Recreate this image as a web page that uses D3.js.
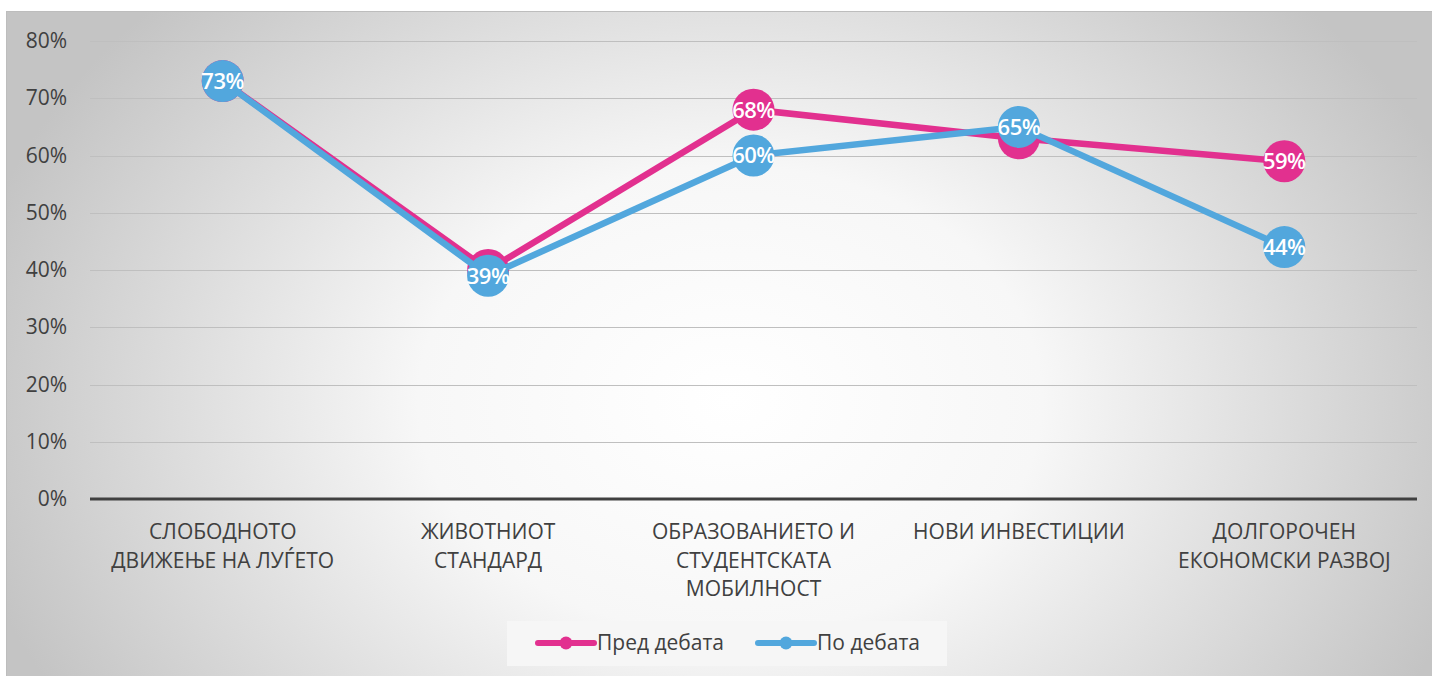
<!DOCTYPE html>
<html>
<head>
<meta charset="utf-8">
<script src="https://cdn.jsdelivr.net/npm/d3@7"></script>
<style>
  html, body { margin: 0; padding: 0; background: #fff; }
  svg { display: block; font-family: "Open Sans", sans-serif; }
</style>
</head>
<body>
<div id="chart"></div>
<script>
// categories (two-line labels as arrays)
const categories = [
    ["СЛОБОДНОТО", "ДВИЖЕЊЕ НА ЛУЃЕТО"],
    ["ЖИВОТНИОТ", "СТАНДАРД"],
    ["ОБРАЗОВАНИЕТО И", "СТУДЕНТСКАТА", "МОБИЛНОСТ"],
    ["НОВИ ИНВЕСТИЦИИ"],
    ["ДОЛГОРОЧЕН", "ЕКОНОМСКИ РАЗВОЈ"]
];
// series values (share)
const predDebata = [0.73, 0.40, 0.68, 0.63, 0.59];
const poDebata = [0.73, 0.39, 0.60, 0.65, 0.44];
const seriesNames = ["Пред дебата", "По дебата"];
const yTicks = [0, 0.1, 0.2, 0.3, 0.4, 0.5, 0.6, 0.7, 0.8];

const colors = ["#E2308F", "#52A7DD"];

const W = 1432, H = 677;
const margin = {left: 90, right: 15, top: 41, bottom: 178};
const R = 21;

const svg = d3.select("#chart").append("svg")
    .attr("width", W)
    .attr("height", H);

// background radial gradient
const defs = svg.append("defs");
const grad = defs.append("radialGradient")
    .attr("id", "bg")
    .attr("gradientUnits", "userSpaceOnUse")
    .attr("cx", 730).attr("cy", 400)
    .attr("r", 780)
    .attr("gradientTransform", "translate(730,400) scale(1,0.75) translate(-730,-400)");
grad.append("stop").attr("offset", "0%").attr("stop-color", "#ffffff");
grad.append("stop").attr("offset", "40%").attr("stop-color", "#f7f7f7");
grad.append("stop").attr("offset", "100%").attr("stop-color", "#c4c4c4");

svg.append("rect")
    .attr("x", 6).attr("y", 11)
    .attr("width", W - 6).attr("height", 665)
    .attr("fill", "url(#bg)");
svg.append("line")
    .attr("x1", 6.5).attr("x2", 6.5).attr("y1", 11).attr("y2", 676)
    .attr("stroke", "#bdbdbd").attr("stroke-width", 1);
svg.append("line")
    .attr("x1", 6).attr("x2", W).attr("y1", 11.5).attr("y2", 11.5)
    .attr("stroke", "#bdbdbd").attr("stroke-width", 1);

// scales
const x = d3.scaleBand()
    .domain(d3.range(categories.length))
    .range([margin.left, W - margin.right]);
const y = d3.scaleLinear()
    .domain([0, 0.8])
    .range([H - margin.bottom, margin.top]);
const cx = i => x(i) + x.bandwidth() / 2;

const g = svg.append("g");

// grid
g.selectAll(".grid")
    .data(yTicks.filter(d => d > 0))
    .enter()
    .append("line")
    .attr("class", "grid")
    .attr("x1", margin.left).attr("x2", W - margin.right)
    .attr("y1", d => Math.round(y(d)) + 0.5).attr("y2", d => Math.round(y(d)) + 0.5)
    .attr("stroke", "#bfbfbf").attr("stroke-width", 1);

// y axis labels
const yAxis = d3.axisLeft(y)
    .tickValues(yTicks)
    .tickFormat(d3.format(".0%"))
    .tickSize(0)
    .tickPadding(0);
const ya = g.append("g")
    .attr("transform", "translate(67,0)")
    .call(yAxis);
ya.select(".domain").remove();
ya.selectAll("text")
    .attr("fill", "#404040")
    .style("font-size", "21px")
    .style("font-family", "Open Sans, sans-serif");

// zero line
g.append("line")
    .attr("x1", margin.left).attr("x2", W - margin.right)
    .attr("y1", y(0)).attr("y2", y(0))
    .attr("stroke", "#404040").attr("stroke-width", 3);

// category labels
const cat = g.selectAll(".cat")
    .data(categories)
    .enter()
    .append("text")
    .attr("class", "cat")
    .attr("text-anchor", "middle")
    .attr("fill", "#404040")
    .style("font-size", "21px");
cat.selectAll("tspan")
    .data((d, i) => d.map(s => ({s: s, i: i})))
    .enter()
    .append("tspan")
    .attr("x", d => cx(d.i))
    .attr("y", (d, j) => 539 + j * 28.5)
    .text(d => d.s);

// series
const line = d3.line()
    .x((d, i) => cx(i))
    .y(d => y(d));
const all = [predDebata, poDebata];

all.forEach(function(vals, k) {
    const s = g.append("g").attr("class", "series" + k);
    s.append("path")
        .datum(vals)
        .attr("d", line)
        .attr("fill", "none")
        .attr("stroke", colors[k])
        .attr("stroke-width", 6.5)
        .attr("stroke-linejoin", "round");
    s.selectAll("circle")
        .data(vals)
        .enter()
        .append("circle")
        .attr("cx", (d, i) => cx(i))
        .attr("cy", d => y(d))
        .attr("r", R)
        .attr("fill", colors[k]);
    // labels hidden under the next series' marker are not drawn
    const visible = vals.map((d, i) => ({v: d, i: i}))
        .filter(p => k === all.length - 1 ||
            Math.abs(y(p.v) - y(all[k + 1][p.i])) > R);
    s.selectAll(".lbl")
        .data(visible)
        .enter()
        .append("text")
        .attr("class", "lbl")
        .attr("x", p => cx(p.i))
        .attr("y", p => y(p.v))
        .attr("dy", "0.36em")
        .attr("text-anchor", "middle")
        .attr("fill", "#ffffff")
        .style("font-size", "22px")
        .style("font-weight", "600")
        .style("letter-spacing", "-0.5px")
        .text(p => Math.round(p.v * 100) + "%");
});

// legend
const lg = svg.append("g");
lg.append("rect")
    .attr("x", 507).attr("y", 621)
    .attr("width", 440).attr("height", 45)
    .attr("fill", "#f6f6f6");
const lx = [538, 758];
seriesNames.forEach(function(name, k) {
    lg.append("line")
        .attr("x1", lx[k]).attr("x2", lx[k] + 56)
        .attr("y1", 643).attr("y2", 643)
        .attr("stroke", colors[k]).attr("stroke-width", 6)
        .attr("stroke-linecap", "round");
    lg.append("circle")
        .attr("cx", lx[k] + 28).attr("cy", 643)
        .attr("r", 6.5)
        .attr("fill", colors[k]);
    lg.append("text")
        .attr("x", lx[k] + 59).attr("y", 643)
        .attr("dy", "0.35em")
        .attr("fill", "#404040")
        .style("font-size", "21px")
        .text(name);
});
</script>
</body>
</html>
